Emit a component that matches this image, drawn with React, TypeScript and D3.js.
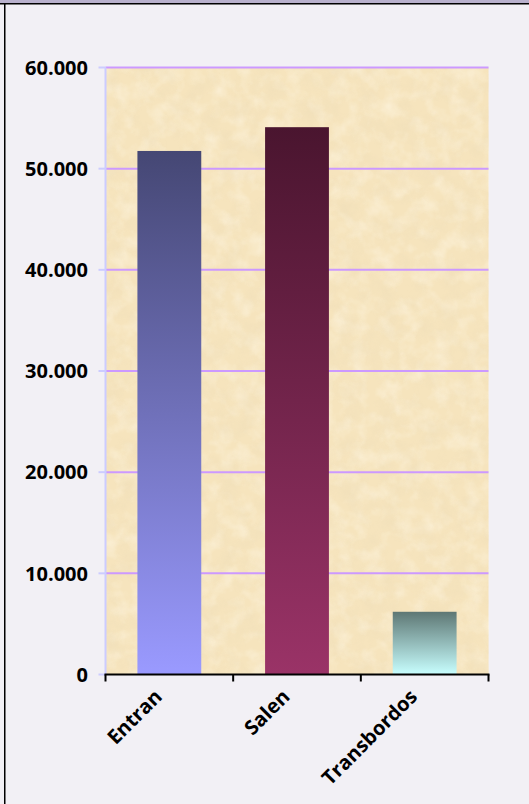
import React from 'react';
import * as d3 from 'd3';

const categories = ['Entran', 'Salen', 'Transbordos'];
const values = [51750, 54100, 6200];
const yTicks = [0, 10000, 20000, 30000, 40000, 50000, 60000];
const yTickLabels = ['0', '10.000', '20.000', '30.000', '40.000', '50.000', '60.000'];
// top colour, bottom colour for each bar's gradient
const gradTop = ['#454774', '#4a152f', '#5e7774'];
const gradBottom = ['#9a9aff', '#9a3367', '#c8ffff'];

export default function App() {
  const width = 529;
  const height = 804;
  const left = 105.5;
  const right = 488.5;
  const top = 67.5;
  const bottom = 674.5;

  const x = d3.scaleBand<string>().domain(categories).range([left, right]).paddingInner(0.5).paddingOuter(0.25);
  const y = d3.scaleLinear().domain([0, 60000]).range([bottom, top]);
  const step = x.step();
  const tickXs = [left, left + step, left + 2 * step, right];

  return (
    <svg
      width={width}
      height={height}
      style={{ position: 'absolute', left: 0, top: 0, fontFamily: "'Open Sans', sans-serif" }}
    >
      <defs>
        {categories.map((c, i) => (
          <linearGradient key={c} id={`g${i}`} x1="0" y1="0" x2="0" y2="1">
            <stop offset="0" stopColor={gradTop[i]} />
            <stop offset="1" stopColor={gradBottom[i]} />
          </linearGradient>
        ))}
        <filter id="paperDark" x="0" y="0" width="100%" height="100%">
          <feTurbulence type="fractalNoise" baseFrequency="0.05" numOctaves="4" seed="7" />
          <feColorMatrix
            type="matrix"
            values="0 0 0 0 0.85  0 0 0 0 0.72  0 0 0 0 0.48  1.6 0 0 0 -0.65"
          />
        </filter>
        <filter id="paperLight" x="0" y="0" width="100%" height="100%">
          <feTurbulence type="fractalNoise" baseFrequency="0.06" numOctaves="3" seed="21" />
          <feColorMatrix
            type="matrix"
            values="0 0 0 0 1  0 0 0 0 0.95  0 0 0 0 0.82  0 1.6 0 0 -0.65"
          />
        </filter>
      </defs>
      <rect x={0} y={0} width={width} height={height} fill="#f2f0f5" />
      <rect x={0} y={0} width={width} height={3} fill="#b9b1cd" />
      <rect x={0} y={3} width={width} height={1.5} fill="#000" />
      <rect x={4} y={3} width={1.5} height={height} fill="#000" />

      {/* parchment plot area */}
      <rect x={left} y={top} width={right - left} height={bottom - top} fill="#f6e4bd" />
      <rect x={left} y={top} width={right - left} height={bottom - top} filter="url(#paperLight)" opacity={0.6} />
      <rect x={left} y={top} width={right - left} height={bottom - top} filter="url(#paperDark)" opacity={0.6} />

      {/* gridlines + y ticks */}
      {yTicks.map((t, i) => (
        <g key={t}>
          {t > 0 && (
            <line x1={left} x2={right} y1={y(t)} y2={y(t)} stroke="#cc99ff" strokeWidth={2} />
          )}
          <line x1={left - 7} x2={left} y1={y(t)} y2={y(t)} stroke="#ccccff" strokeWidth={2} />
          <text
            x={88}
            y={y(t)}
            dy="0.36em"
            textAnchor="end"
            fontSize={20}
            fontWeight="bold"
            fill="#000"
          >
            {yTickLabels[i]}
          </text>
        </g>
      ))}
      <line x1={left} x2={left} y1={top} y2={bottom} stroke="#ccccff" strokeWidth={2} />

      {/* bars */}
      {categories.map((c, i) => (
        <rect
          key={c}
          x={x(c)}
          y={y(values[i])}
          width={x.bandwidth()}
          height={y(0) - y(values[i])}
          fill={`url(#g${i})`}
        />
      ))}

      {/* x axis */}
      <line x1={left - 1} x2={right + 1} y1={bottom} y2={bottom} stroke="#000" strokeWidth={2} />
      {tickXs.map((tx, i) => (
        <line key={i} x1={tx} x2={tx} y1={bottom} y2={bottom + 7} stroke="#000" strokeWidth={2} />
      ))}
      {categories.map((c) => {
        const cx = (x(c) ?? 0) + x.bandwidth() / 2 - 11;
        const cy = 693;
        return (
          <text
            key={c}
            transform={`translate(${cx},${cy}) rotate(-45)`}
            textAnchor="end"
            dy="0.35em"
            fontSize={20}
            fontWeight="bold"
            fill="#000"
          >
            {c}
          </text>
        );
      })}
    </svg>
  );
}
